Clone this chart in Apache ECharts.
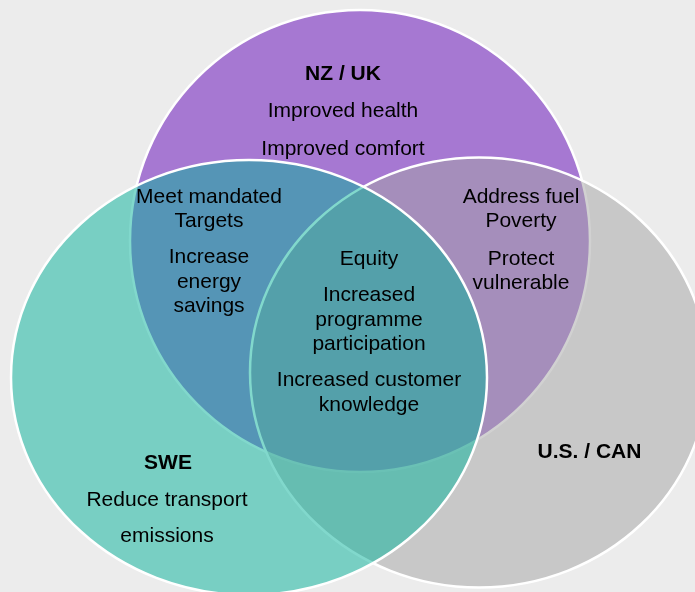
<!DOCTYPE html>
<html>
<head>
<meta charset="utf-8">
<script src="https://cdn.jsdelivr.net/npm/echarts@6/dist/echarts.min.js"></script>
<style>
  html, body { margin: 0; padding: 0; background: #ececec; }
  #main { width: 695px; height: 592px; }
</style>
</head>
<body>
<div id="main"></div>
<script>
// sets: centre and half-width / half-height, in chart units
var setNames = ['NZ / UK', 'U.S. / CAN', 'SWE'];
var setCx = [360, 479, 249];
var setCy = [241, 372.5, 377.5];
var setRx = [230, 229, 238];
var setRy = [231, 215, 217.5];
var setColors = ['#a678d2', 'rgba(164,164,164,0.5)', 'rgba(4,178,154,0.5)'];

// text blocks inside the regions
var labelText = [
    'NZ / UK', 'Improved health', 'Improved comfort',
    'Meet mandated\nTargets', 'Increase\nenergy\nsavings',
    'Address fuel\nPoverty', 'Protect\nvulnerable',
    'Equity', 'Increased\nprogramme\nparticipation', 'Increased customer\nknowledge',
    'U.S. / CAN',
    'SWE', 'Reduce transport', 'emissions'
];
var labelX = [343, 343, 343, 209, 209, 521, 521, 369, 369, 369, 589.5, 168, 167, 167];
var labelY = [74.5, 111.2, 148.8, 209.2, 282, 209.2, 271.2, 259.5, 320, 392.8, 451.8, 462.8, 500.2, 536.2];
var labelBold = [1, 0, 0, 0, 0, 0, 0, 0, 0, 0, 1, 1, 0, 0];

var chart = echarts.init(document.getElementById('main'), null, { renderer: 'canvas' });

var ellipseData = setNames.map(function (n, i) {
    return [setCx[i], setCy[i], setRx[i], setRy[i], i];
});
var textData = labelText.map(function (t, i) {
    return [labelX[i], labelY[i], i];
});

var option = {
    backgroundColor: '#ececec',
    animation: false,
    grid: { left: 0, right: 0, top: 0, bottom: 0 },
    xAxis: { type: 'value', min: 0, max: 695, show: false },
    yAxis: { type: 'value', min: 0, max: 592, inverse: true, show: false },
    series: [{
        type: 'custom',
        clip: false,
        data: ellipseData,
        renderItem: function (params, api) {
            var c = api.coord([api.value(0), api.value(1)]);
            var s = api.size([api.value(2), api.value(3)]);
            var i = api.value(4);
            return {
                type: 'ellipse',
                shape: { cx: c[0], cy: c[1], rx: s[0], ry: s[1] },
                style: { fill: setColors[i], stroke: '#ffffff', lineWidth: 2.5 }
            };
        }
    }, {
        type: 'custom',
        clip: false,
        z: 5,
        data: textData,
        renderItem: function (params, api) {
            var c = api.coord([api.value(0), api.value(1)]);
            var i = api.value(2);
            return {
                type: 'text',
                x: c[0],
                y: c[1],
                style: {
                    text: labelText[i],
                    fill: '#000000',
                    font: (labelBold[i] ? 'bold ' : '') + '21px "Liberation Sans", Arial, sans-serif',
                    align: 'center',
                    verticalAlign: 'middle',
                    lineHeight: 24.3
                }
            };
        }
    }]
};

chart.setOption(option);
</script>
</body>
</html>
